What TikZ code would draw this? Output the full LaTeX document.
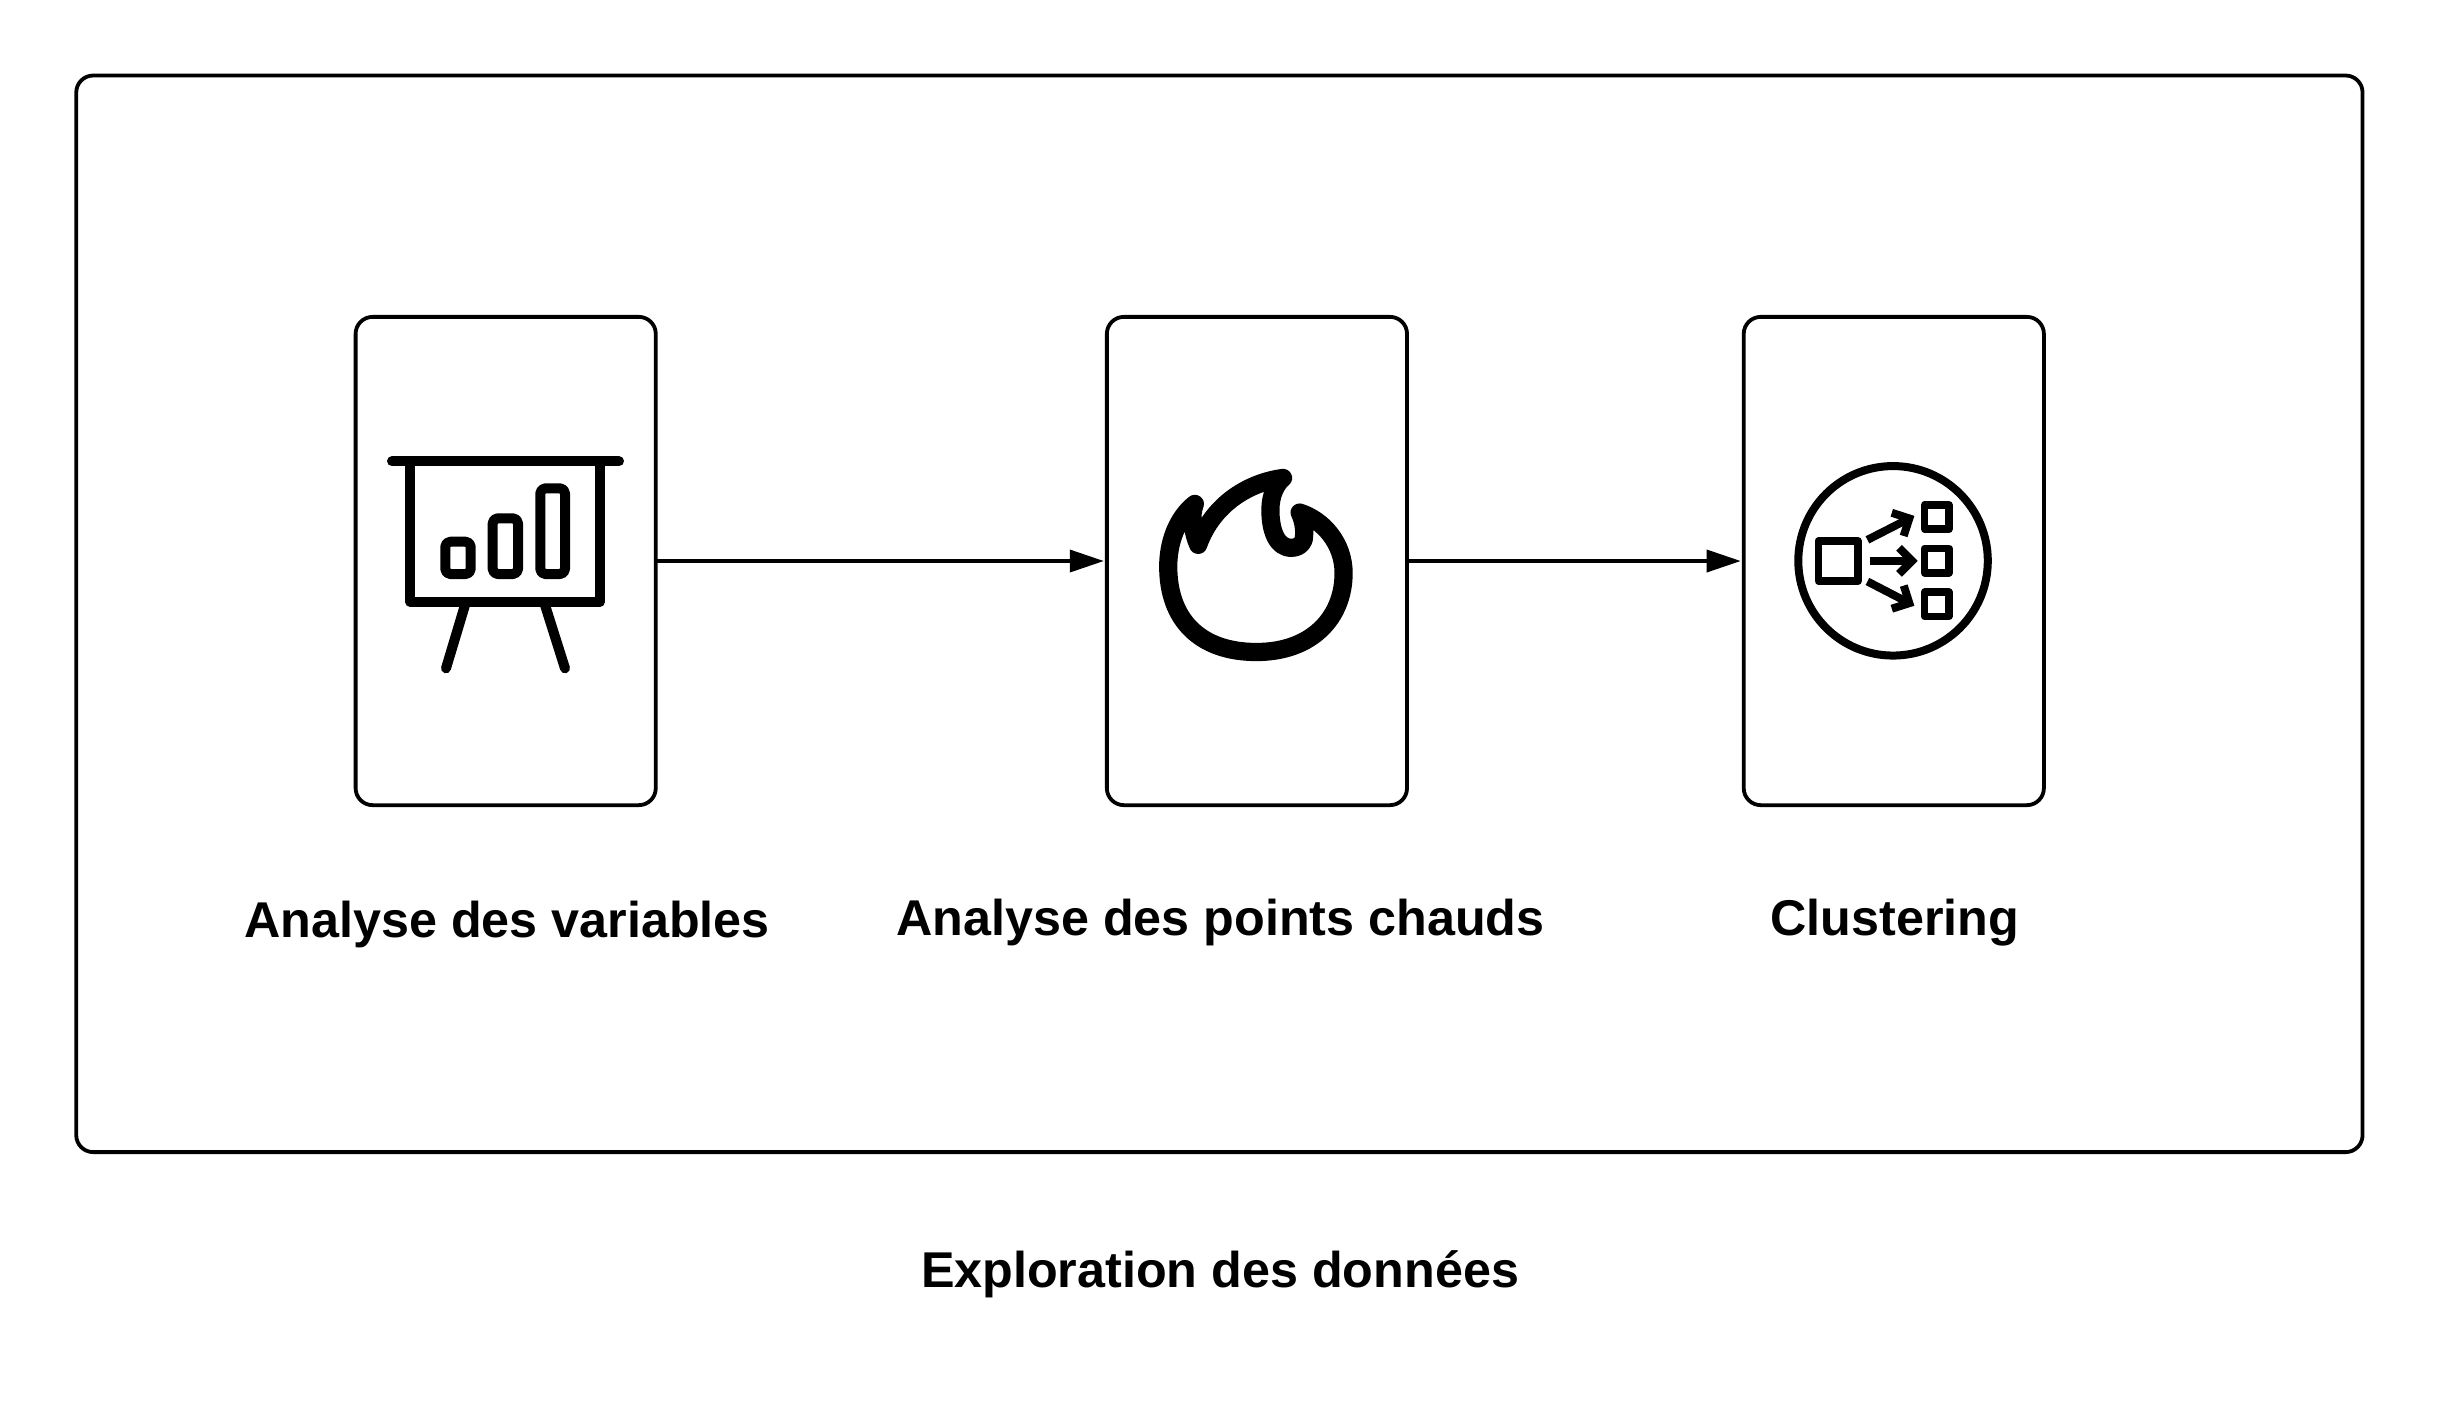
\documentclass[tikz,border=0pt]{standalone}
\usepackage{fontspec}
\setmainfont{Liberation Sans}
\usetikzlibrary{
  arrows.meta,
  positioning,
}
\tikzset{
  panel/.style={draw, line width=0.038cm, rounded corners=0.17cm, outer sep=0pt,
    minimum width=3cm, minimum height=4.88cm},
  caption/.style={anchor=base, inner sep=0pt, font=\fontsize{14.3}{17}\selectfont\bfseries},
  flow/.style={line width=0.036cm, shorten >=0.03cm, -{Triangle[length=3.4mm, width=2.2mm]}},
  glyph/.style={line width=0.1cm, line join=round, line cap=round},
}

\begin{document}
\begin{tikzpicture}[x=0.01cm, y=-0.01cm]
  \useasboundingbox (0,0) rectangle (2438,1423);
  \node [draw, line width=0.038cm, rounded corners=0.17cm, minimum width=22.85cm,
    minimum height=10.76cm, outer sep=0pt] (frame) at (1219.4,613.8) {};

  \node [panel] (variables) at (505.7,561) {};
  \node [panel, right = 4.508cm of variables] (hotspots) {};
  \node [panel, right = 3.365cm of hotspots] (clusters) {};

  \draw [flow] (variables) to (hotspots);
  \draw [flow] (hotspots) to (clusters);

  \node [caption] (variablestext) at (507,937.5) {Analyse des variables};
  \node [caption] (hotspotstext) at (1220.5,935.5) {Analyse des points chauds};
  \node [caption] (clusterstext) at (1895,935.5) {Clustering};
  \node [caption] (frametext) at (1220,1287) {Exploration des données};

  % chart on its easel
  \draw [glyph] (392,461.3) -- (619,461.3);
  \draw [glyph, line cap=butt] (410.3,461.3) -- (410.3,601.7) -- (600,601.7) -- (600,461.3);
  \draw [glyph, rounded corners=0.05cm] (445.3,574) rectangle (470.7,541.7);
  \draw [glyph, rounded corners=0.05cm] (492.7,574) rectangle (518,518.3);
  \draw [glyph, rounded corners=0.05cm] (540.3,574) rectangle (565,488.3);
  \draw [glyph] (465,605) -- (446,668.3);
  \draw [glyph] (545,605) -- (565,668.3);

  % flame
  \begin{scope}[shift={(1100,440)}, x=0.003333cm, y=-0.003333cm]
    \draw [glyph, line width=0.182cm] (550,114)
      .. controls (450,127) and (340,190) .. (295,315)
      .. controls (280,280) and (270,230) .. (285,192)
      .. controls (230,235) and (205,310) .. (205,380)
      .. controls (205,540) and (300,637) .. (470,637)
      .. controls (640,637) and (732,530) .. (732,400)
      .. controls (732,310) and (670,240) .. (600,218)
      .. controls (615,250) and (615,280) .. (612,300)
      .. controls (605,318) and (590,324) .. (575,324)
      .. controls (530,324) and (512,270) .. (512,210)
      .. controls (512,165) and (530,130) .. (550,114) -- cycle;
  \end{scope}

  % one square splitting into three
  \begin{scope}[shift={(1720,440)}, x=0.003333cm, y=-0.003333cm]
    \draw [glyph, line width=0.08cm] (520,363) circle [radius=0.947cm];
    \draw [glyph, line width=0.078cm] (296,303) rectangle (414,424);
    \foreach \ytop in {195,326,457} {
      \draw [glyph, line width=0.075cm] (615,\ytop) rectangle +(73,73);
    }
    \draw [glyph, line width=0.08cm, line cap=butt, -{Straight Barb[length=1.3mm, width=2.6mm]}] (443,300) -- (584,228);
    \draw [glyph, line width=0.08cm, line cap=butt, -{Straight Barb[length=1.3mm, width=2.6mm]}] (450,363) -- (594,363);
    \draw [glyph, line width=0.08cm, line cap=butt, -{Straight Barb[length=1.3mm, width=2.6mm]}] (443,425) -- (584,498);
  \end{scope}
\end{tikzpicture}
\end{document}
